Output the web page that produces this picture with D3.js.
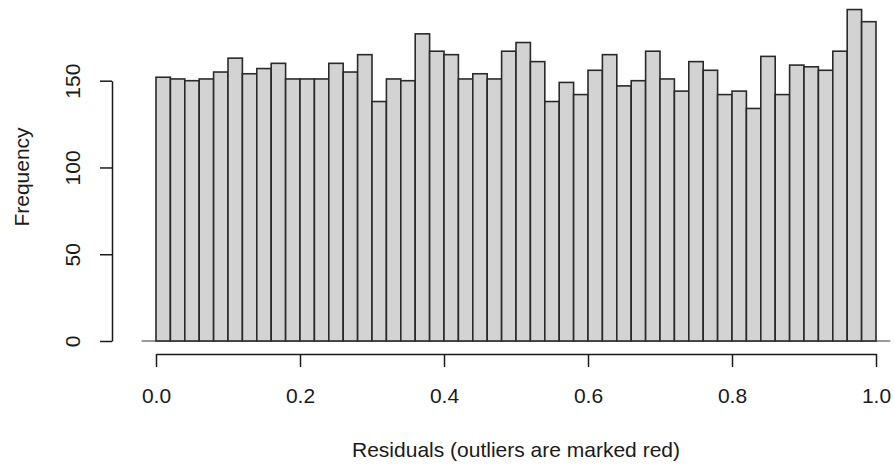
<!DOCTYPE html>
<html>
<head>
<meta charset="utf-8">
<script src="https://cdn.jsdelivr.net/npm/d3@7"></script>
<style>
  html, body { margin: 0; padding: 0; background: #ffffff; }
  svg { display: block; }
  text { font-family: "Liberation Sans", Arial, sans-serif; }
</style>
</head>
<body>
<svg id="chart" width="894" height="468"></svg>
<script>
// ---- data ----
const breaks = [0.00,0.02,0.04,0.06,0.08,0.10,0.12,0.14,0.16,0.18,
                0.20,0.22,0.24,0.26,0.28,0.30,0.32,0.34,0.36,0.38,
                0.40,0.42,0.44,0.46,0.48,0.50,0.52,0.54,0.56,0.58,
                0.60,0.62,0.64,0.66,0.68,0.70,0.72,0.74,0.76,0.78,
                0.80,0.82,0.84,0.86,0.88,0.90,0.92,0.94,0.96,0.98,1.00];
const counts = [152,151,150,151,155,163,154,157,160,151,
                151,151,160,155,165,138,151,150,177,167,
                165,151,154,151,167,172,161,138,149,142,
                156,165,147,150,167,151,144,161,156,142,
                144,134,164,142,159,158,156,167,191,184];
const xTicks = [0, 0.2, 0.4, 0.6, 0.8, 1.0];
const xTickLabels = ["0.0", "0.2", "0.4", "0.6", "0.8", "1.0"];
const yTicks = [0, 50, 100, 150];
const xTitle = "Residuals (outliers are marked red)";
const yTitle = "Frequency";

// ---- chart ----
const svg = d3.select("#chart");
const x = d3.scaleLinear().domain([0, 1]).range([156, 876]);
const y = d3.scaleLinear().domain([0, 150]).range([341, 80.7]);
const FONT = 21;
const ink = "#1a1a1a";

const bins = counts.map((c, i) => ({ x0: breaks[i], x1: breaks[i + 1], n: c }));

// baseline (gray)
svg.append("line")
  .attr("x1", x(-0.02)).attr("x2", x(1.02))
  .attr("y1", y(0)).attr("y2", y(0))
  .attr("stroke", "#9a9a9a").attr("stroke-width", 2);

// bars
svg.append("g").selectAll("rect").data(bins).join("rect")
  .attr("x", d => x(d.x0))
  .attr("y", d => y(d.n))
  .attr("width", d => x(d.x1) - x(d.x0))
  .attr("height", d => y(0) - y(d.n))
  .attr("fill", "#d3d3d3")
  .attr("stroke", "#2a2a2a")
  .attr("stroke-width", 1.6);

// x axis
const xAxis = svg.append("g")
  .attr("transform", "translate(0,354)")
  .call(d3.axisBottom(x).tickValues(xTicks)
        .tickFormat((d, i) => xTickLabels[i])
        .tickSize(13).tickSizeOuter(0).tickPadding(22));
xAxis.select(".domain").attr("stroke", ink).attr("stroke-width", 1.5);
xAxis.selectAll(".tick line").attr("stroke", ink).attr("stroke-width", 1.5);
xAxis.selectAll(".tick text")
  .attr("font-size", FONT).attr("fill", ink)
  .attr("font-family", "Liberation Sans, Arial, sans-serif")
  .attr("dy", null).attr("y", 49);

// y axis
const yAxis = svg.append("g")
  .attr("transform", "translate(112,0)")
  .call(d3.axisLeft(y).tickValues(yTicks).tickFormat(d3.format("d"))
        .tickSize(12).tickSizeOuter(0));
yAxis.select(".domain").attr("stroke", ink).attr("stroke-width", 1.5);
yAxis.selectAll(".tick line").attr("stroke", ink).attr("stroke-width", 1.5);
yAxis.selectAll(".tick text")
  .attr("font-size", FONT).attr("fill", ink)
  .attr("font-family", "Liberation Sans, Arial, sans-serif")
  .attr("x", null).attr("dy", null)
  .attr("text-anchor", "middle")
  .attr("transform", "translate(-32,0) rotate(-90)");

// axis titles
svg.append("text")
  .attr("x", (x(0) + x(1)) / 2).attr("y", 457)
  .attr("text-anchor", "middle")
  .attr("font-size", FONT).attr("fill", ink)
  .text(xTitle);

svg.append("text")
  .attr("transform", "translate(29,177) rotate(-90)")
  .attr("text-anchor", "middle")
  .attr("font-size", FONT).attr("fill", ink)
  .text(yTitle);
</script>
</body>
</html>
